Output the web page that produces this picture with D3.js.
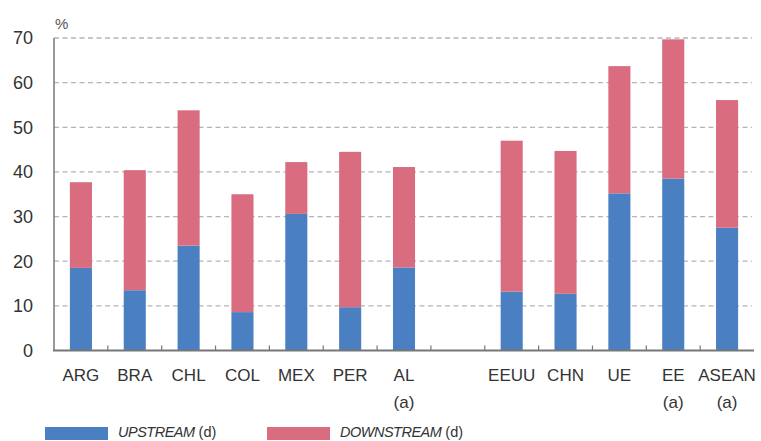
<!DOCTYPE html>
<html>
<head>
<meta charset="utf-8">
<script src="https://cdn.jsdelivr.net/npm/d3@7"></script>
<style>
  body { margin: 0; background: #fff; }
  svg { display: block; font-family: "Liberation Sans", Arial, sans-serif; }
</style>
</head>
<body>
<div id="chart"></div>
<script>
// slot "" is the empty gap between AL and the rest
const categories = ["ARG", "BRA", "CHL", "COL", "MEX", "PER", "AL", "", "EEUU", "CHN", "UE", "EE", "ASEAN"];
const notes      = ["", "", "", "", "", "", "(a)", "", "", "", "", "(a)", "(a)"];
const upstream   = [18.5, 13.5, 23.5, 8.6, 30.6, 9.7, 18.6, null, 13.2, 12.7, 35.2, 38.5, 27.5];
const downstream = [19.2, 26.9, 30.3, 26.4, 11.6, 34.8, 22.5, null, 33.8, 32.0, 28.5, 31.2, 28.6];
const yTicks = [0, 10, 20, 30, 40, 50, 60, 70];

const W = 761, H = 441;
const blue = "#4a80c2", pink = "#d96c7f";

const svg = d3.select("#chart").append("svg")
  .attr("width", W).attr("height", H);

const x = d3.scaleBand().domain(categories.map((c, i) => i)).range([54, 754]).padding(0);
const y = d3.scaleLinear().domain([0, 70]).range([350.5, 38]);
const barW = x.bandwidth() * 0.41;

// gridlines
svg.append("g").selectAll("line")
  .data(yTicks.filter(t => t > 0))
  .join("line")
  .attr("x1", 54).attr("x2", 752)
  .attr("y1", d => y(d)).attr("y2", d => y(d))
  .attr("stroke", "#b5b5b5").attr("stroke-width", 1.3)
  .attr("stroke-dasharray", "5,3.5");

// y labels
svg.append("g").selectAll("text")
  .data(yTicks)
  .join("text")
  .attr("x", 33).attr("y", d => y(d))
  .attr("dy", "0.36em")
  .attr("text-anchor", "end")
  .attr("font-size", 18)
  .attr("fill", "#333")
  .text(d => d);

svg.append("text")
  .attr("x", 55).attr("y", 29)
  .attr("font-size", 15).attr("fill", "#555")
  .text("%");

// bars
const idx = categories.map((c, i) => i).filter(i => upstream[i] !== null);
svg.append("g").selectAll("rect")
  .data(idx)
  .join("rect")
  .attr("x", i => x(i) + (x.bandwidth() - barW) / 2)
  .attr("width", barW)
  .attr("y", i => y(upstream[i]))
  .attr("height", i => y(0) - y(upstream[i]))
  .attr("fill", blue);

svg.append("g").selectAll("rect")
  .data(idx)
  .join("rect")
  .attr("x", i => x(i) + (x.bandwidth() - barW) / 2)
  .attr("width", barW)
  .attr("y", i => y(upstream[i] + downstream[i]))
  .attr("height", i => y(upstream[i]) - y(upstream[i] + downstream[i]))
  .attr("fill", pink);

// axes lines
svg.append("line")
  .attr("x1", 54).attr("x2", 54).attr("y1", y(70)).attr("y2", y(0))
  .attr("stroke", "#777").attr("stroke-width", 1.5);
svg.append("line")
  .attr("x1", 53).attr("x2", 754).attr("y1", y(0)).attr("y2", y(0))
  .attr("stroke", "#777").attr("stroke-width", 2);

// small ticks between slots
svg.append("g").selectAll("line")
  .data(categories.map((c, i) => i).slice(1))
  .join("line")
  .attr("x1", i => x(i)).attr("x2", i => x(i))
  .attr("y1", y(0) - 5).attr("y2", y(0))
  .attr("stroke", "#777").attr("stroke-width", 1.2);

// x labels
const xl = svg.append("g").selectAll("g")
  .data(categories.map((c, i) => i))
  .join("g");
xl.append("text")
  .attr("x", i => x(i) + x.bandwidth() / 2)
  .attr("y", 381)
  .attr("text-anchor", "middle")
  .attr("font-size", 17).attr("fill", "#333")
  .text(i => categories[i]);
xl.append("text")
  .attr("x", i => x(i) + x.bandwidth() / 2)
  .attr("y", 408)
  .attr("text-anchor", "middle")
  .attr("font-size", 17).attr("fill", "#333")
  .text(i => notes[i]);

// legend
const legend = [
  { name: "UPSTREAM", color: blue, x: 45 },
  { name: "DOWNSTREAM", color: pink, x: 267 }
];
const lg = svg.append("g").selectAll("g").data(legend).join("g");
lg.append("rect")
  .attr("x", d => d.x).attr("y", 427)
  .attr("width", 63).attr("height", 13)
  .attr("fill", d => d.color);
const lt = lg.append("text")
  .attr("x", d => d.x + 73).attr("y", 437)
  .attr("font-size", 14.5).attr("fill", "#333");
lt.append("tspan").attr("font-style", "italic").attr("letter-spacing", -0.5).text(d => d.name);
lt.append("tspan").text(" (d)");
</script>
</body>
</html>
